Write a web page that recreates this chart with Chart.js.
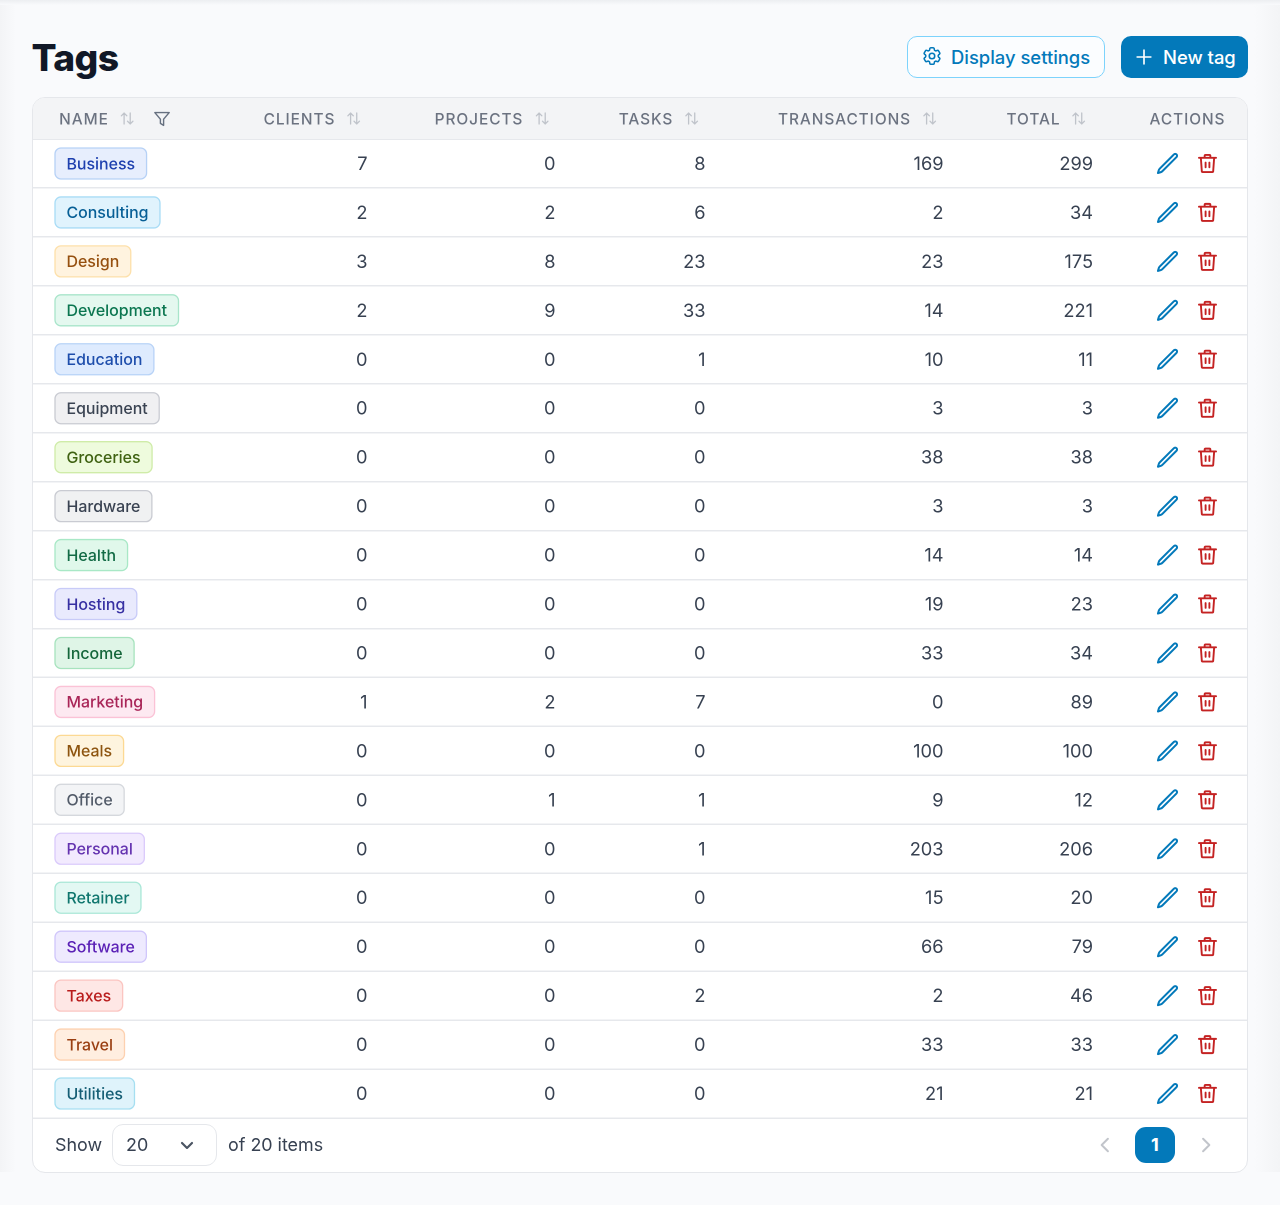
<!DOCTYPE html>
<html>
<head>
<meta charset="utf-8">
<title>Tags</title>
<script src="https://cdn.jsdelivr.net/npm/chart.js@4"></script>
<style>
  html, body { margin: 0; padding: 0; width: 1280px; height: 1205px; overflow: hidden; background: #f9fafc; font-family: Inter, sans-serif; }
  .abs { position: absolute; }
  #sideL { left: 0; top: 0; width: 16px; height: 1172px; background: linear-gradient(to right, #f3f4f6, #f9fafc); }
  #sideR { right: 0; top: 0; width: 26px; height: 1172px; background: linear-gradient(to left, #f3f4f6, #f9fafc); }
  #sideT { left: 0; top: 0; width: 1280px; height: 5px; background: linear-gradient(to bottom, #eceef1, #f9fafc); }
  #title { left: 31.5px; top: 35px; font-size: 37.2px; line-height: 46px; font-weight: 800; letter-spacing: -0.6px; color: #111827; }
  .btn { box-sizing: border-box; height: 42px; top: 36px; border-radius: 10px; font-size: 18.4px; font-weight: 500; line-height: 40px; white-space: nowrap; }
  #settings { left: 907px; width: 198px; border: 1.5px solid #7dd3fc; color: #0379ba; background: #fbfdff; }
  #settings svg { position: absolute; left: 13px; top: 8px; }
  #settings span { position: absolute; left: 43px; top: 0; }
  #newtag { left: 1121px; width: 127px; background: #0379ba; color: #fff; line-height: 42px; }
  #newtag svg { position: absolute; left: 12px; top: 10px; }
  #newtag span { position: absolute; left: 42px; top: 0; }
  #card { box-sizing: border-box; left: 32px; top: 97px; width: 1216px; height: 1076px; background: #fff; border: 1.5px solid #e5e7eb; border-radius: 13px; overflow: hidden; }
  #thead { left: 0; top: 0; width: 100%; height: 40px; background: #f3f4f6; }
  canvas { position: absolute; left: 0; top: 0; }
  .foot { font-size: 17.9px; color: #374151; line-height: 24px; top: 1133px; }
  #select { box-sizing: border-box; left: 112px; top: 1124px; width: 105px; height: 42px; border: 1.5px solid #e5e7eb; border-radius: 11px; background: #fff; }
  #page { left: 1135px; top: 1127px; width: 40px; height: 36px; border-radius: 11px; background: #0379ba; color: #fff; font-size: 18px; font-weight: 700; line-height: 36px; text-align: center; }
</style>
</head>
<body>
<div class="abs" id="sideL"></div>
<div class="abs" id="sideR"></div>
<div class="abs" id="sideT"></div>
<div class="abs" id="title">Tags</div>
<div class="abs btn" id="settings">
  <svg width="22" height="22" viewBox="0 0 24 24" fill="none" stroke="#0379ba" stroke-width="1.7" stroke-linejoin="round"><path d="M9.594 3.94c.09-.542.56-.94 1.11-.94h2.593c.55 0 1.02.398 1.11.94l.213 1.281c.063.374.313.686.645.87.074.04.147.083.22.127.325.196.72.257 1.075.124l1.217-.456a1.125 1.125 0 0 1 1.37.49l1.296 2.247a1.125 1.125 0 0 1-.26 1.431l-1.003.827c-.293.241-.438.613-.43.992a7.723 7.723 0 0 1 0 .255c-.008.378.137.75.43.991l1.004.827c.424.35.534.955.26 1.43l-1.298 2.247a1.125 1.125 0 0 1-1.369.491l-1.217-.456c-.355-.133-.75-.072-1.076.124a6.47 6.47 0 0 1-.22.128c-.331.183-.581.495-.644.869l-.213 1.281c-.09.543-.56.94-1.11.94h-2.594c-.55 0-1.019-.398-1.11-.94l-.213-1.281c-.062-.374-.312-.686-.644-.87a6.52 6.52 0 0 1-.22-.127c-.325-.196-.72-.257-1.076-.124l-1.217.456a1.125 1.125 0 0 1-1.369-.49l-1.297-2.247a1.125 1.125 0 0 1 .26-1.431l1.004-.827c.292-.24.437-.613.43-.991a6.932 6.932 0 0 1 0-.255c.007-.38-.138-.751-.43-.992l-1.004-.827a1.125 1.125 0 0 1-.26-1.43l1.297-2.247a1.125 1.125 0 0 1 1.37-.491l1.216.456c.356.133.751.072 1.076-.124.072-.044.146-.086.22-.128.332-.183.582-.495.644-.869l.214-1.28Z"/><path d="M15 12a3 3 0 1 1-6 0 3 3 0 0 1 6 0Z"/></svg>
  <span>Display settings</span>
</div>
<div class="abs btn" id="newtag">
  <svg width="22" height="22" viewBox="0 0 24 24" fill="none" stroke="#fff" stroke-width="1.8" stroke-linecap="round"><path d="M12 4.5v15M4.5 12h15"/></svg>
  <span>New tag</span>
</div>
<div class="abs" id="card"><div class="abs" id="thead"></div></div>
<canvas id="tags-chart" width="1280" height="1205"></canvas>
<div class="abs foot" style="left:55px">Show</div>
<div class="abs" id="select">
  <div class="abs foot" style="left:13px;top:8px">20</div>
  <svg class="abs" style="left:64px;top:10px" width="20" height="20" viewBox="0 0 24 24" fill="none" stroke="#4b5563" stroke-width="2.6" stroke-linecap="round" stroke-linejoin="round"><path d="M6 9.5l6 6 6-6"/></svg>
</div>
<div class="abs foot" style="left:228px">of 20 items</div>
<svg class="abs" style="left:1095px;top:1135px" width="20" height="20" viewBox="0 0 24 24" fill="none" stroke="#c2c5cb" stroke-width="2.4" stroke-linecap="round" stroke-linejoin="round"><path d="M15.5 4.5L8 12l7.5 7.5"/></svg>
<div class="abs" id="page">1</div>
<svg class="abs" style="left:1196px;top:1135px" width="20" height="20" viewBox="0 0 24 24" fill="none" stroke="#c2c5cb" stroke-width="2.4" stroke-linecap="round" stroke-linejoin="round"><path d="M8.5 4.5L16 12l-7.5 7.5"/></svg>

<script>
const tags = ['Business', 'Consulting', 'Design', 'Development', 'Education', 'Equipment', 'Groceries', 'Hardware', 'Health', 'Hosting', 'Income', 'Marketing', 'Meals', 'Office', 'Personal', 'Retainer', 'Software', 'Taxes', 'Travel', 'Utilities'];
const clients = [7, 2, 3, 2, 0, 0, 0, 0, 0, 0, 0, 1, 0, 0, 0, 0, 0, 0, 0, 0];
const projects = [0, 2, 8, 9, 0, 0, 0, 0, 0, 0, 0, 2, 0, 1, 0, 0, 0, 0, 0, 0];
const tasks = [8, 6, 23, 33, 1, 0, 0, 0, 0, 0, 0, 7, 0, 1, 1, 0, 0, 2, 0, 0];
const transactions = [169, 2, 23, 14, 10, 3, 38, 3, 14, 19, 33, 0, 100, 9, 203, 15, 66, 2, 33, 21];
const total = [299, 34, 175, 221, 11, 3, 38, 3, 14, 23, 34, 89, 100, 12, 206, 20, 79, 46, 33, 21];
const headers = ['NAME', 'CLIENTS', 'PROJECTS', 'TASKS', 'TRANSACTIONS', 'TOTAL', 'ACTIONS'];

// layout of the table columns, the x scale runs in page pixels
const headerCenters = [84, 299.5, 479, 646, 844.5, 1033.5, 1187.5];
const sortIconCenters = [127.5, 354, 542.5, 692, 930, 1079];
const columnRights = [367.5, 555.5, 705.5, 943.5, 1093];

// bg, border, text
const tagColors = {
  Business: ['#e7eefd', '#b6d1f6', '#1e40af'],
  Consulting: ['#e0f3fd', '#a8dcf6', '#075f96'],
  Design: ['#fff3df', '#fde0aa', '#96500f'],
  Development: ['#e4f8ef', '#a8e5ca', '#0b7650'],
  Education: ['#deebfe', '#b8d3f7', '#1e4eac'],
  Equipment: ['#f0f0f2', '#c9cbd2', '#3a4352'],
  Groceries: ['#eefbdd', '#cfeca8', '#3f6212'],
  Hardware: ['#f0f1f2', '#c9cbd2', '#3a4352'],
  Health: ['#e0f8eb', '#a8e8c6', '#126b45'],
  Hosting: ['#e9eafd', '#c8cbf8', '#3730a3'],
  Income: ['#dff5e7', '#a7e3be', '#14663a'],
  Marketing: ['#fde9f1', '#fbc2d6', '#a92557'],
  Meals: ['#fef4de', '#fcd993', '#8d540f'],
  Office: ['#f3f4f6', '#d5d8dd', '#525b69'],
  Personal: ['#f2eafe', '#dacafb', '#6433b0'],
  Retainer: ['#e3f8f3', '#a9e7d7', '#0f766e'],
  Software: ['#eeeafe', '#d0c6fb', '#5b21b6'],
  Taxes: ['#fee7e5', '#fbc5c1', '#b91c1c'],
  Travel: ['#ffeee0', '#fdd1b0', '#9a3f12'],
  Utilities: ['#dff3fb', '#a6dff1', '#155e75'],
};

const pencilIcon = new Path2D('m16.862 4.487 1.687-1.688a1.875 1.875 0 1 1 2.652 2.652L6.832 19.82a4.5 4.5 0 0 1-1.897 1.13l-2.685.8.8-2.685a4.5 4.5 0 0 1 1.13-1.897L16.863 4.487Z');
const trashIcon = new Path2D('M5 6l1 14a1 1 0 0 0 1 1h10a1 1 0 0 0 1-1l1-14M3 6h18M9 6V4a1 1 0 0 1 1-1h4a1 1 0 0 1 1 1v2M10 11v5M14 11v5');
const sortIcon = new Path2D('M7 20V4M3 8l4-4 4 4M16 4v16M12 16l4 4 4-4');
const filterIcon = new Path2D('M3 4h18l-7 8.2V20l-4-2.5v-5.3Z');

const strokeIcon = (ctx, icon, cx, cy, scale, color, width) => {
  ctx.save();
  ctx.translate(cx - 12 * scale, cy - 12 * scale);
  ctx.scale(scale, scale);
  ctx.strokeStyle = color;
  ctx.lineWidth = width / scale;
  ctx.lineJoin = 'round';
  ctx.lineCap = 'round';
  ctx.stroke(icon);
  ctx.restore();
};

const tableCells = {
  id: 'tableCells',
  beforeDraw(chart) {
    // header letter spacing, only the x axis labels are drawn while it is on
    chart.ctx.letterSpacing = '0.95px';
  },
  beforeDatasetsDraw(chart) {
    const ctx = chart.ctx;
    const x = chart.scales.x;
    const y = chart.scales.y;
    ctx.letterSpacing = '0px';

    // sort and filter icons in the header
    sortIconCenters.forEach((pos) => {
      strokeIcon(ctx, sortIcon, x.getPixelForValue(pos), 118.5, 0.68, '#bfc3ca', 1.3);
    });
    strokeIcon(ctx, filterIcon, x.getPixelForValue(162), 119, 0.8, '#667080', 1.4);

    // tag pills
    tags.forEach((tag, i) => {
      const cy = y.getPixelForValue(i);
      const [bg, border, text] = tagColors[tag];
      ctx.font = '500 15.9px Inter';
      const w = ctx.measureText(tag).width + 23;
      ctx.beginPath();
      ctx.roundRect(x.getPixelForValue(55), cy - 15.5, w, 31, 6);
      ctx.fillStyle = bg;
      ctx.fill();
      ctx.strokeStyle = border;
      ctx.lineWidth = 1.3;
      ctx.stroke();
      ctx.fillStyle = text;
      ctx.textAlign = 'left';
      ctx.textBaseline = 'middle';
      ctx.fillText(tag, x.getPixelForValue(66.5), cy + 1);

      strokeIcon(ctx, pencilIcon, x.getPixelForValue(1167.5), cy, 0.98, '#0379ba', 2);
      strokeIcon(ctx, trashIcon, x.getPixelForValue(1207.5), cy, 0.95, '#c42222', 1.9);
    });

    // numbers, placed on the points the library worked out
    ctx.font = '400 18.2px Inter';
    ctx.fillStyle = '#374151';
    ctx.textAlign = 'right';
    ctx.textBaseline = 'middle';
    chart.data.datasets.forEach((dataset, d) => {
      chart.getDatasetMeta(d).data.forEach((point, i) => {
        ctx.fillText(dataset.data[i].value, point.x, point.y + 1);
      });
    });
  },
};

const columnDataset = (label, values, right) => ({
  label: label,
  data: values.map((value, i) => ({ x: right, y: tags[i], value: value })),
  pointRadius: 0,
  showLine: false,
});

new Chart(document.getElementById('tags-chart').getContext('2d'), {
  type: 'scatter',
  data: {
    datasets: [
      columnDataset('CLIENTS', clients, columnRights[0]),
      columnDataset('PROJECTS', projects, columnRights[1]),
      columnDataset('TASKS', tasks, columnRights[2]),
      columnDataset('TRANSACTIONS', transactions, columnRights[3]),
      columnDataset('TOTAL', total, columnRights[4]),
    ],
  },
  plugins: [tableCells],
  options: {
    responsive: false,
    animation: false,
    devicePixelRatio: 2,
    layout: { padding: { left: 33, right: 33, top: 98, bottom: 87 } },
    plugins: { legend: { display: false }, tooltip: { enabled: false } },
    scales: {
      x: {
        type: 'linear',
        position: 'top',
        min: 33,
        max: 1247,
        grid: { display: false },
        border: { display: false },
        afterFit: (scale) => { scale.height = 41; },
        afterBuildTicks: (scale) => { scale.ticks = headerCenters.map((value) => ({ value: value })); },
        ticks: {
          autoSkip: false,
          maxRotation: 0,
          padding: 2,
          color: '#6b7280',
          font: { family: 'Inter', size: 15.4, weight: '500' },
          callback: (value) => headers[headerCenters.indexOf(value)],
        },
      },
      y: {
        type: 'category',
        labels: tags,
        offset: true,
        afterFit: (scale) => { scale.width = 0; },
        border: { display: false },
        ticks: { display: false },
        grid: { color: '#e6e8ec', lineWidth: 1.5, offset: true, drawTicks: false },
      },
    },
  },
});
</script>
</body>
</html>
